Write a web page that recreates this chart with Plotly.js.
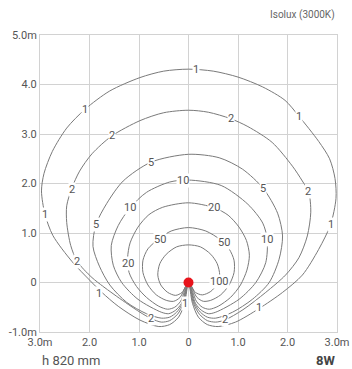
<!DOCTYPE html>
<html>
<head>
<meta charset="utf-8">
<script src="https://cdn.plot.ly/plotly-3.0.1.min.js"></script>
<style>
  html, body { margin: 0; padding: 0; background: #fff; }
  #chart { width: 352px; height: 369px; }
</style>
</head>
<body>
<div id="chart"></div>
<script>
// ---- Data ----
const xTickVals = [-3, -2, -1, 0, 1, 2, 3];
const xTickText = ["3.0m", "2.0", "1.0", "0", "1.0", "2.0", "3.0m"];
const yTickVals = [-1, 0, 1, 2, 3, 4, 5];
const yTickText = ["-1.0m", "0", "1.0", "2.0", "3.0", "4.0", "5.0m"];

const levels = [1, 2, 5, 10, 20, 50, 100];

const iso1X = [0, 0.08, 0.2, 0.38, 0.6, 0.95, 1.42, 1.9, 2.3, 2.63, 2.87, 2.98, 2.96, 2.85, 2.63, 2.23, 1.95, 1.5, 1.0, 0.5, 0,
  -0.5, -0.98, -1.59, -2.09, -2.46, -2.75, -2.92, -2.97, -2.9, -2.74, -2.35, -2.0, -1.75, -1.42, -0.98, -0.6, -0.38, -0.2, -0.08, 0];
const iso1Y = [0, -0.42, -0.7, -0.85, -0.89, -0.8, -0.53, -0.2, 0.15, 0.67, 1.17, 1.7, 2.1, 2.5, 2.85, 3.36, 3.68, 3.95, 4.15, 4.27, 4.31,
  4.27, 4.14, 3.87, 3.5, 3.12, 2.65, 2.2, 1.85, 1.38, 0.95, 0.42, 0.05, -0.2, -0.48, -0.76, -0.89, -0.85, -0.7, -0.42, 0];

const iso2X = [0, 0.1, 0.22, 0.38, 0.55, 0.73, 1.1, 1.56, 1.96, 2.23, 2.4, 2.47, 2.43, 2.3, 2.1, 1.69, 1.2, 0.85, 0.4, 0,
  -0.5, -0.98, -1.55, -1.95, -2.2, -2.36, -2.46, -2.46, -2.38, -2.25, -1.95, -1.45, -0.98, -0.75, -0.55, -0.38, -0.22, -0.1, 0];
const iso2Y = [0, -0.42, -0.64, -0.77, -0.8, -0.76, -0.55, -0.2, 0.15, 0.5, 0.94, 1.42, 1.82, 2.05, 2.35, 2.83, 3.15, 3.31, 3.44, 3.48,
  3.43, 3.27, 2.96, 2.6, 2.25, 1.9, 1.55, 1.21, 0.75, 0.43, 0.1, -0.28, -0.6, -0.73, -0.8, -0.77, -0.64, -0.42, 0];

const iso5X = [0, 0.12, 0.24, 0.38, 0.55, 0.89, 1.29, 1.63, 1.83, 1.9, 1.8, 1.51, 1.09, 0.62, 0,
  -0.76, -1.32, -1.65, -1.87, -1.93, -1.8, -1.59, -1.25, -0.85, -0.55, -0.38, -0.24, -0.12, 0];
const iso5Y = [0, -0.42, -0.6, -0.7, -0.72, -0.6, -0.34, 0.0, 0.47, 0.94, 1.4, 1.9, 2.29, 2.52, 2.59,
  2.43, 2.05, 1.6, 1.17, 0.73, 0.33, -0.05, -0.4, -0.63, -0.72, -0.7, -0.6, -0.42, 0];

const iso10X = [0, 0.14, 0.26, 0.4, 0.55, 1.02, 1.36, 1.56, 1.59, 1.5, 1.2, 0.66, 0,
  -0.38, -0.85, -1.18, -1.42, -1.56, -1.52, -1.35, -1.02, -0.55, -0.4, -0.26, -0.14, 0];
const iso10Y = [0, -0.42, -0.56, -0.63, -0.6, -0.34, 0, 0.4, 0.87, 1.2, 1.58, 1.96, 2.07,
  2.03, 1.82, 1.51, 1.15, 0.75, 0.35, 0, -0.34, -0.6, -0.63, -0.56, -0.42, 0];

const iso20X = [0, 0.16, 0.28, 0.42, 0.6, 0.85, 1.05, 1.18, 1.23, 1.17, 1.02, 0.8, 0.52, 0,
  -0.52, -0.8, -1.02, -1.18, -1.23, -1.2, -1.05, -0.85, -0.6, -0.42, -0.28, -0.16, 0];
const iso20Y = [0, -0.38, -0.5, -0.54, -0.48, -0.3, -0.05, 0.25, 0.55, 0.85, 1.12, 1.36, 1.51, 1.61,
  1.52, 1.37, 1.12, 0.8, 0.5, 0.2, -0.08, -0.3, -0.48, -0.54, -0.5, -0.38, 0];

const iso50X = [0, 0.17, 0.3, 0.45, 0.65, 0.82, 0.92, 0.92, 0.82, 0.65, 0.35, 0,
  -0.35, -0.6, -0.82, -0.92, -0.92, -0.82, -0.65, -0.45, -0.3, -0.17, 0];
const iso50Y = [0, -0.3, -0.38, -0.36, -0.25, -0.05, 0.2, 0.45, 0.68, 0.86, 1.04, 1.11,
  1.04, 0.88, 0.68, 0.45, 0.2, -0.05, -0.25, -0.36, -0.38, -0.3, 0];

const iso100X = [0, 0.14, 0.28, 0.45, 0.58, 0.63, 0.58, 0.45, 0.24, 0,
  -0.24, -0.45, -0.58, -0.62, -0.56, -0.42, -0.26, -0.13, 0];
const iso100Y = [0, -0.2, -0.25, -0.18, -0.03, 0.15, 0.38, 0.57, 0.72, 0.76,
  0.72, 0.57, 0.38, 0.15, -0.05, -0.2, -0.26, -0.2, 0];

const labelText = ["1","1","1","1","1","1","1","1",
  "2","2","2","2","2","2","2",
  "5","5","5",
  "10","10","10",
  "20","20",
  "50","50",
  "100"];
const labelX = [0.15, -2.09, 2.23, -2.9, 2.87, -1.8, 1.42, -0.08,
  0.85, -1.55, -2.36, 2.42, -2.25, -0.75, 0.73,
  -0.76, 1.51, -1.87,
  -0.12, -1.18, 1.59,
  0.52, -1.22,
  -0.58, 0.72,
  0.63];
const labelY = [4.31, 3.5, 3.36, 1.38, 1.17, -0.23, -0.51, -0.42,
  3.31, 2.96, 1.88, 1.84, 0.43, -0.73, -0.75,
  2.42, 1.9, 1.17,
  2.07, 1.51, 0.87,
  1.51, 0.38,
  0.86, 0.8,
  0.03];

const sourceX = [0];
const sourceY = [0];

// ---- Build traces ----
const isoX = [iso1X, iso2X, iso5X, iso10X, iso20X, iso50X, iso100X];
const isoY = [iso1Y, iso2Y, iso5Y, iso10Y, iso20Y, iso50Y, iso100Y];

const traces = isoX.map((xs, i) => ({
  type: 'scatter', mode: 'lines', x: xs, y: isoY[i],
  name: String(levels[i]),
  line: { color: '#7a7a7a', width: 1, shape: 'spline', smoothing: 0.8 },
  hoverinfo: 'skip', showlegend: false
}));
traces.push({
  type: 'scatter', mode: 'markers', x: sourceX, y: sourceY,
  marker: { color: '#e8141c', size: 10 }, showlegend: false, hoverinfo: 'skip'
});

const fontFam = 'Roboto, "Open Sans", sans-serif';
const annotations = labelText.map((t, i) => ({
  x: labelX[i], y: labelY[i], xref: 'x', yref: 'y', text: t, showarrow: false,
  font: { family: fontFam, size: 11, color: '#555' },
  bgcolor: 'rgba(255,255,255,1)', borderpad: 0
}));
annotations.push({
  xref: 'paper', yref: 'paper', x: 1, y: 1.067, xanchor: 'right', yanchor: 'middle',
  text: 'Isolux (3000K)', showarrow: false, font: { family: fontFam, size: 10, color: '#666' }
});
annotations.push({
  xref: 'paper', yref: 'paper', x: 0, y: -0.095, xanchor: 'left', yanchor: 'middle',
  text: 'h 820 mm', showarrow: false, font: { family: fontFam, size: 13, color: '#555' }
});
annotations.push({
  xref: 'paper', yref: 'paper', x: 1, y: -0.095, xanchor: 'right', yanchor: 'middle',
  text: '<b>8W</b>', showarrow: false, font: { family: fontFam, size: 13, color: '#444' }
});

const axisCommon = {
  showgrid: true, gridcolor: '#d2d2d2', gridwidth: 1, zeroline: false,
  showline: true, linecolor: '#d2d2d2', linewidth: 1, mirror: true,
  ticks: '', tickfont: { family: fontFam, size: 11, color: '#555' }, fixedrange: true
};

const layout = {
  width: 352, height: 369,
  margin: { l: 40, r: 15, t: 35, b: 37 },
  paper_bgcolor: '#fff', plot_bgcolor: '#fff',
  xaxis: Object.assign({}, axisCommon, { range: [-3, 3], tickvals: xTickVals, ticktext: xTickText }),
  yaxis: Object.assign({}, axisCommon, { range: [-1, 5], tickvals: yTickVals, ticktext: yTickText }),
  annotations: annotations,
  showlegend: false
};

Plotly.newPlot('chart', traces, layout, { displayModeBar: false, staticPlot: true });
</script>
</body>
</html>
